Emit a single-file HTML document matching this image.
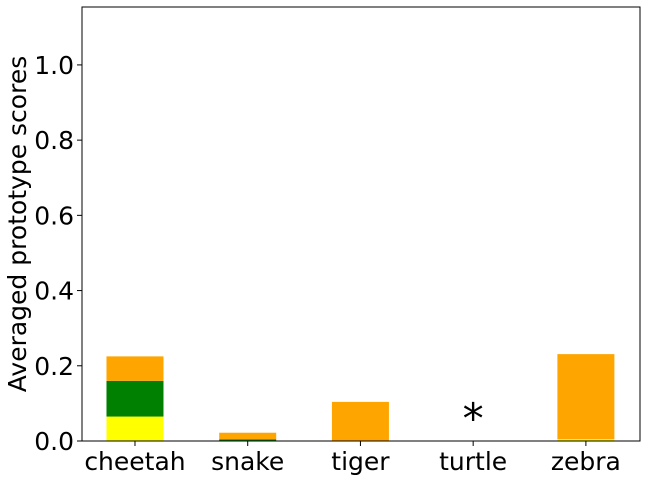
<!DOCTYPE html>
<html><head><meta charset="utf-8"><style>
body{margin:0;background:#fff;}
svg text{font-family:"DejaVu Sans","Liberation Sans",sans-serif;fill:#000;}
</style></head><body>
<svg id="chart" width="647" height="480" xmlns="http://www.w3.org/2000/svg">
<g id="plot"></g>
</svg>
<script>
const categories = ["cheetah","snake","tiger","turtle","zebra"];
const yellowVals = [0.065, 0.0, 0.0, 0.0, 0.005];
const greenVals = [0.095, 0.004, 0.0, 0.0, 0.0];
const orangeVals = [0.065, 0.018, 0.104, 0.0, 0.226];
const missing = [false, false, false, true, false];
const yTicks = [0.0, 0.2, 0.4, 0.6, 0.8, 1.0];
const yTickLabels = ["0.0","0.2","0.4","0.6","0.8","1.0"];

const L=82, R=640, T=7, B=441, yMax=1.154;
const xMin=-0.47, xMax=4.48;
const y = v => B - v/yMax*(B-T);
const x = i => L + (i-xMin)/(xMax-xMin)*(R-L);
const bw = 57;
const NS="http://www.w3.org/2000/svg";
const g = document.getElementById('plot');
function mk(t,a){const e=document.createElementNS(NS,t);for(const k in a)e.setAttribute(k,a[k]);g.appendChild(e);return e;}

categories.forEach((c,i)=>{
  let base=0;
  [[yellowVals,"#ffff00","yellow"],[greenVals,"#008000","green"],[orangeVals,"#ffa500","orange"]].forEach(([arr,col,nm])=>{
    const v=arr[i];
    if(v>0){
      const r=mk('rect',{x:x(i)-bw/2,y:y(base+v),width:bw,height:y(base)-y(base+v),fill:col});
      
      
    }
    base+=v;
  });
  if(missing[i]){
    const s=mk('text',{x:x(i),y:y(0)-8,'text-anchor':'middle','font-size':42});
    s.textContent='*';
    
    
  }
  mk('line',{x1:x(i),x2:x(i),y1:B,y2:B+5,stroke:'#000','stroke-width':1});
  const t=mk('text',{x:x(i),y:B+29,'text-anchor':'middle','font-size':25});
  t.textContent=c;
  
  
});
yTicks.forEach((v,i)=>{
  mk('line',{x1:L-5,x2:L,y1:y(v),y2:y(v),stroke:'#000','stroke-width':1});
  const t=mk('text',{x:L-8,y:y(v)+9,'text-anchor':'end','font-size':25});
  t.textContent=yTickLabels[i];
  
  
});
const fr=mk('rect',{x:L,y:T,width:R-L,height:B-T,fill:'none',stroke:'#000','stroke-width':1});


const yt=mk('text',{x:0,y:0,'text-anchor':'middle','font-size':25,transform:`translate(26,${(T+B)/2}) rotate(-90)`});
yt.textContent='Averaged prototype scores';


</script>
</body></html>
